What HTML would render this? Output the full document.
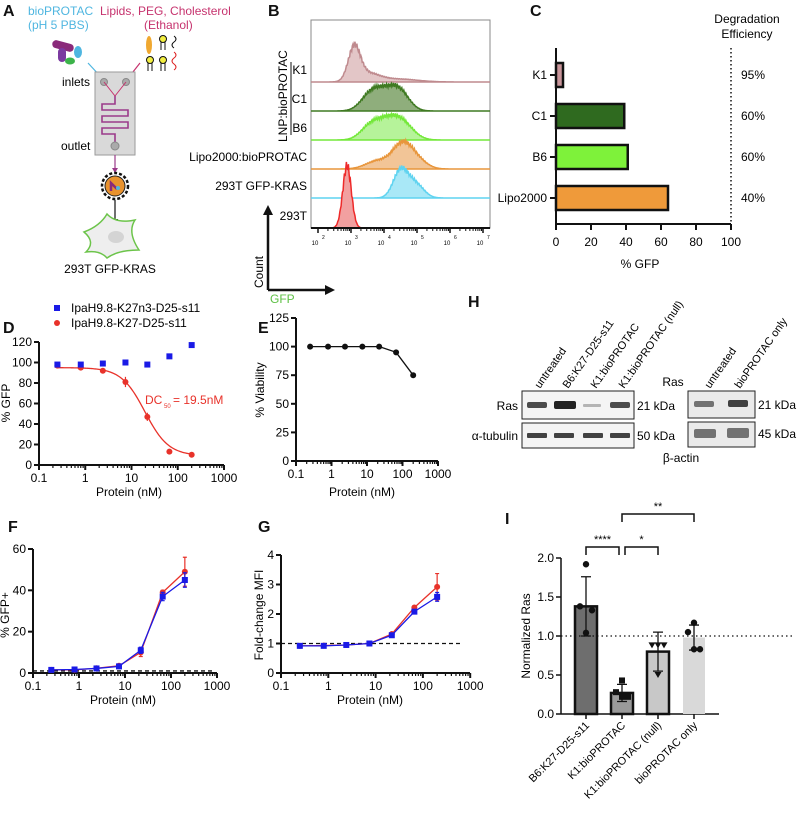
<!DOCTYPE html>
<html><head><meta charset="utf-8"><style>
html,body{margin:0;padding:0;background:#fff;}
svg{display:block;font-family:"Liberation Sans",sans-serif;}
</style></head><body>
<svg id="fig" width="800" height="830" viewBox="0 0 800 830">
<g font-weight="bold" font-size="16" fill="#111">
<text x="3" y="16">A</text>
<text x="268" y="16">B</text>
<text x="530" y="16">C</text>
<text x="3" y="333">D</text>
<text x="258" y="333">E</text>
<text x="8" y="532">F</text>
<text x="258" y="532">G</text>
<text x="468" y="307">H</text>
<text x="505" y="524">I</text>
</g>

<g font-size="12">
<text x="28" y="15" fill="#4fb6e0">bioPROTAC</text>
<text x="28" y="29" fill="#4fb6e0">(pH 5 PBS)</text>
<text x="100" y="15" fill="#c6336e">Lipids, PEG, Cholesterol</text>
<text x="144" y="29" fill="#c6336e">(Ethanol)</text>
<g>
<rect x="52" y="42" width="22" height="8" rx="4" fill="#8a2a7a" transform="rotate(15 63 46)"/>
<rect x="58" y="48" width="8" height="14" rx="4" fill="#7b3aa0"/>
<ellipse cx="78" cy="52" rx="4" ry="6" fill="#4fb6e0"/>
<ellipse cx="70" cy="61" rx="5" ry="3.5" fill="#3cb34a"/>
</g>
<g>
<ellipse cx="149" cy="45" rx="3" ry="9" fill="#f0a830"/>
<circle cx="150" cy="60" r="3.5" fill="#f2ee40" stroke="#111"/>
<path d="M148 63v8M152 63v8" stroke="#111"/>
<circle cx="163" cy="60" r="3.5" fill="#f2ee40" stroke="#111"/>
<path d="M161 63v8M165 63v8" stroke="#111"/>
<circle cx="163" cy="39" r="3.5" fill="#f2ee40" stroke="#111"/>
<path d="M161 42v8M165 42v8" stroke="#111"/>
<path d="M174 36q4 3 0 6q-4 3 0 6" fill="none" stroke="#111"/>
<path d="M174 52q4 3 0 6q-4 3 0 6q4 3 0 6" fill="none" stroke="#d22"/>
</g>
<path d="M88 63L101 77" stroke="#4fb6e0" stroke-width="1.2"/>
<path d="M97 75l4 3-1-5z" fill="#4fb6e0"/>
<path d="M140 63L129 77" stroke="#c6336e" stroke-width="1.2"/>
<path d="M126 78l5-2-3-3z" fill="#c6336e"/>
<rect x="95" y="72" width="40" height="83" fill="#d9d9d9" stroke="#9a9a9a"/>
<circle cx="104" cy="82" r="3.5" fill="#aaa" stroke="#888"/>
<circle cx="126" cy="82" r="3.5" fill="#aaa" stroke="#888"/>
<path d="M104 82L115 96L126 82" fill="none" stroke="#c6336e" stroke-width="1"/>
<path d="M115 96V104H102V110H128V116H102V122H128V128H102V134H115V146" fill="none" stroke="#9b3a8a" stroke-width="1.6"/>
<circle cx="115" cy="146" r="4" fill="#aaa" stroke="#888"/>
<text x="62" y="86">inlets</text>
<text x="61" y="150">outlet</text>
<path d="M115 155V170" stroke="#9b3a8a" stroke-width="1.2"/>
<path d="M112 168l3 5 3-5z" fill="#9b3a8a"/>
<g>
<circle cx="115" cy="186" r="13" fill="none" stroke="#111" stroke-width="2.5" stroke-dasharray="3 2"/>
<circle cx="115" cy="186" r="10" fill="#e8922e" stroke="#222"/>
<path d="M111 191v-8l6 6" fill="none" stroke="#8a2a7a" stroke-width="2.5"/>
<circle cx="118" cy="188" r="2" fill="#4fb6e0"/>
</g>
<path d="M115 200V222" stroke="#111" stroke-width="1.2"/>
<path d="M112 219l3 5 3-5z" fill="#111"/>
<path d="M84 232Q100 226 107 214Q116 224 135 220Q127 232 139 250Q118 250 107 258Q100 250 86 252Q96 242 84 232Z" fill="#eee" stroke="#6cc44a" stroke-width="1.5"/>
<ellipse cx="116" cy="237" rx="8" ry="6" fill="#d4d4d4"/>
<text x="110" y="273" text-anchor="middle">293T GFP-KRAS</text>
</g>

<g font-size="12">
<rect x="311" y="20" width="179" height="208" fill="none" stroke="#888"/>
<text transform="translate(287,142) rotate(-90)">LNP:bioPROTAC</text>
<path d="M291 62V135" stroke="#111" stroke-width="1"/>
<path d="M268 290V212M268 290H328" stroke="#111" stroke-width="2.5" fill="none"/>
<path d="M263 215l5-10 5 10z M325 285l10 5-10 5z" fill="#111"/>
<text transform="translate(263,288) rotate(-90)">Count</text>
<text x="270" y="303" fill="#5dc044">GFP</text>
</g>
<g id="histB"></g>

<g id="panelC"></g>
<g id="panelD"></g>
<g id="panelE"></g>
<g id="panelF"></g>
<g id="panelG"></g>

<g font-size="12">
<g font-size="11">
<text transform="translate(540,389) rotate(-55)">untreated</text>
<text transform="translate(568,389) rotate(-55)">B6:K27-D25-s11</text>
<text transform="translate(596,389) rotate(-55)">K1:bioPROTAC</text>
<text transform="translate(624,389) rotate(-55)">K1:bioPROTAC (null)</text>
<text transform="translate(710,389) rotate(-55)">untreated</text>
<text transform="translate(740,389) rotate(-55)">bioPROTAC only</text>
</g>
<rect x="522" y="391" width="112" height="28" fill="#f4f4f4" stroke="#222"/>
<rect x="522" y="423" width="112" height="25" fill="#f4f4f4" stroke="#222"/>
<rect x="688" y="391" width="67" height="27" fill="#eaeaea" stroke="#222"/>
<rect x="688" y="422" width="67" height="25" fill="#eaeaea" stroke="#222"/>
<g fill="#222">
<rect x="527" y="402" width="20" height="6" rx="2" opacity="0.8"/>
<rect x="554" y="401" width="22" height="8" rx="2"/>
<rect x="583" y="404" width="18" height="3" rx="1" opacity="0.3"/>
<rect x="610" y="402" width="20" height="6" rx="2" opacity="0.8"/>
<rect x="527" y="433" width="20" height="5" rx="1" opacity="0.85"/>
<rect x="554" y="433" width="20" height="5" rx="1" opacity="0.85"/>
<rect x="583" y="433" width="20" height="5" rx="1" opacity="0.85"/>
<rect x="610" y="433" width="20" height="5" rx="1" opacity="0.85"/>
<rect x="694" y="401" width="20" height="6" rx="2" opacity="0.6"/>
<rect x="728" y="400" width="20" height="7" rx="2" opacity="0.85"/>
<rect x="694" y="429" width="22" height="9" rx="2" opacity="0.6"/>
<rect x="727" y="428" width="22" height="10" rx="2" opacity="0.6"/>
</g>
<text x="518" y="410" text-anchor="end">Ras</text>
<text x="518" y="440" text-anchor="end">α-tubulin</text>
<text x="637" y="410">21 kDa</text>
<text x="637" y="440">50 kDa</text>
<text x="758" y="409">21 kDa</text>
<text x="758" y="438">45 kDa</text>
<text x="673" y="386" text-anchor="middle">Ras</text>
<text x="681" y="462" text-anchor="middle">β-actin</text>
</g>
<g id="panelI"></g>
</svg>
<script>
const NS='http://www.w3.org/2000/svg';
function mk(parent,tag,attrs,txt){const e=document.createElementNS(NS,tag);for(const k in attrs)e.setAttribute(k,attrs[k]);if(txt!==undefined)e.textContent=txt;parent.appendChild(e);return e;}
const L=Math.log10;

/* ---------- Panel B data ---------- */
const histLabels=['K1','C1','B6','Lipo2000:bioPROTAC','293T GFP-KRAS','293T'];
const histPeaks=[[[3.1,0.18,33],[3.5,0.35,8],[4.4,0.6,3]],[[3.6,0.3,16],[4.45,0.3,20],[4.0,0.3,12]],[[3.6,0.3,14],[4.5,0.35,19],[4.05,0.3,11]],[[4.55,0.3,24],[3.8,0.35,8],[5.0,0.3,8]],[[4.5,0.22,27],[4.95,0.25,14]],[[2.88,0.13,62]]];
const histLine=['#bf8a8e','#3f7a22','#74e83a','#e8963c','#5fd3f0','#ee2a2a'];
const histFill=['#e3c6c7','#8fae7c','#b6f39a','#f2c597','#a9e8f7','#f2a0a0'];
const histBase=[82,111,140,169,198,228];
const decadeTicks=[2,3,4,5,6,7];
(function(){
const g=document.getElementById('histB');
const xH=d=>318+(d-2)*33;
histLabels.forEach((lab,i)=>{
 let pts=[];
 for(let d=1.8;d<=7.05;d+=0.02){let h=0;histPeaks[i].forEach(p=>{h+=p[2]*Math.exp(-0.5*Math.pow((d-p[0])/p[1],2));});
  h*=1+0.08*Math.sin(d*97.3)*(h>2?1:0);
  const x=Math.max(311,Math.min(490,xH(d)));pts.push(x.toFixed(1)+','+(histBase[i]-h).toFixed(1));}
 const a=mk(g,'path',{d:'M311,'+histBase[i]+' L'+pts.join(' L')+' L490,'+histBase[i]+'Z',fill:histFill[i],stroke:histLine[i],'stroke-width':1.5});
 
 
 const t=mk(g,'text',{x:307,y:histBase[i]-8,'text-anchor':'end','font-size':12},lab);
 
 
});
mk(g,'line',{x1:311,y1:228,x2:490,y2:228,stroke:'#111','stroke-width':2});
decadeTicks.forEach(d=>{
 const tk=mk(g,'line',{x1:xH(d),y1:228,x2:xH(d),y2:233,stroke:'#111','stroke-width':1.5});
 
 
 for(let m=2;m<10&&d<7;m++){mk(g,'line',{x1:xH(d+L(m)),y1:228,x2:xH(d+L(m)),y2:231,stroke:'#111','stroke-width':1});}
 const t=mk(g,'text',{x:xH(d)-3,y:245,'font-size':6,'text-anchor':'middle'},'10');
 
 
 mk(g,'text',{x:xH(d)+4,y:239,'font-size':5},String(d));
});
})();

/* ---------- Panel C data ---------- */
const cCats=['K1','C1','B6','Lipo2000'];
const cVals=[4,39,41,64];
const cEff=['95%','60%','60%','40%'];
const cColors=['#c9959a','#2f6a1f','#7ef23a','#ef9a3a'];
const cTicks=[0,20,40,60,80,100];
(function(){
const g=document.getElementById('panelC');
const xC=v=>556+v*1.75;const yC=i=>75+i*41;
cCats.forEach((c,i)=>{
 const b=mk(g,'rect',{x:xC(0),y:yC(i)-12,width:xC(cVals[i])-xC(0),height:24,fill:cColors[i],stroke:'#111','stroke-width':2.5});
 
 
 mk(g,'line',{x1:550,y1:yC(i),x2:556,y2:yC(i),stroke:'#111','stroke-width':2});
 const t=mk(g,'text',{x:547,y:yC(i)+4,'text-anchor':'end','font-size':12},c);
 
 
 const e=mk(g,'text',{x:741,y:yC(i)+4,'font-size':12},cEff[i]);
 
 
});
mk(g,'path',{d:'M556,48V224H731',fill:'none',stroke:'#111','stroke-width':2});
mk(g,'line',{x1:731,y1:48,x2:731,y2:224,stroke:'#111','stroke-width':1.5,'stroke-dasharray':'1.5 2.5'});
cTicks.forEach(v=>{mk(g,'line',{x1:xC(v),y1:224,x2:xC(v),y2:230,stroke:'#111','stroke-width':2});
 const t=mk(g,'text',{x:xC(v),y:246,'text-anchor':'middle','font-size':12},String(v));
 
 });
const xt=mk(g,'text',{x:640,y:268,'text-anchor':'middle','font-size':12},'% GFP');


const h1=mk(g,'text',{x:747,y:23,'text-anchor':'middle','font-size':12},'Degradation');


mk(g,'text',{x:747,y:38,'text-anchor':'middle','font-size':12},'Efficiency');
})();

const xTickVals=[0.1,1,10,100,1000];
function logAxes(g,xf,yf,x0,x1,yAx,yTicks,yMin,yMax,fs){
 mk(g,'line',{x1:x0,y1:yf(yMin),x2:x1,y2:yf(yMin),stroke:'#111','stroke-width':2});
 mk(g,'line',{x1:x0,y1:yf(yMin),x2:x0,y2:yf(yMax),stroke:'#111','stroke-width':2});
 xTickVals.forEach(v=>{
  mk(g,'line',{x1:xf(v),y1:yf(yMin),x2:xf(v),y2:yf(yMin)+5,stroke:'#111','stroke-width':2});
  if(v<1000)for(let m=2;m<10;m++)mk(g,'line',{x1:xf(v*m),y1:yf(yMin),x2:xf(v*m),y2:yf(yMin)+3,stroke:'#111','stroke-width':1.2});
  const t=mk(g,'text',{x:xf(v),y:yf(yMin)+17,'text-anchor':'middle','font-size':fs},String(v));
  
  
 });
 yTicks.forEach(v=>{
  mk(g,'line',{x1:x0-5,y1:yf(v),x2:x0,y2:yf(v),stroke:'#111','stroke-width':2});
  const t=mk(g,'text',{x:x0-7,y:yf(v)+4,'text-anchor':'end','font-size':fs},String(v));
  
  
 });
}
function poly(g,pts,color){return mk(g,'polyline',{points:pts.map(p=>p.join(',')).join(' '),fill:'none',stroke:color,'stroke-width':1.3});}

/* ---------- Panel D data ---------- */
const conc=[0.25,0.8,2.4,7.4,22,66,200];
const dBlue=[98,98,99,100,98,106,117];
const dRed=[97,95,92,81,47,13,10];
const dRedErr=[1,1,1,5,4,1,1];
const dFitTop=95, dFitBottom=9, dFitDC50=19.5, dFitHill=1.7;
const dYTicks=[0,20,40,60,80,100,120];
(function(){
const g=document.getElementById('panelD');
const xf=v=>39+(L(v)+1)*46.25, yf=v=>465-v*123/120;
logAxes(g,xf,yf,39,224,0,dYTicks,0,120,12);
let pts=[];for(let lv=L(0.25);lv<=L(200)+0.001;lv+=0.02){const c=Math.pow(10,lv);pts.push([xf(c),yf(dFitBottom+(dFitTop-dFitBottom)/(1+Math.pow(c/dFitDC50,dFitHill)))]);}
const fit=poly(g,pts,'#e8322a');


conc.forEach((c,i)=>{
 mk(g,'line',{x1:xf(c),y1:yf(dRed[i]-dRedErr[i]),x2:xf(c),y2:yf(dRed[i]+dRedErr[i]),stroke:'#e8322a','stroke-width':1.2});
 const p=mk(g,'circle',{cx:xf(c),cy:yf(dRed[i]),r:3,fill:'#e8322a'});
 
 
 const s=mk(g,'rect',{x:xf(c)-3,y:yf(dBlue[i])-3,width:6,height:6,fill:'#1a1ae6'});
 
 
});
const dc=mk(g,'text',{x:145,y:404,fill:'#e8322a','font-size':12},'DC');


mk(g,'text',{x:164,y:408,fill:'#e8322a','font-size':6},'50');
mk(g,'text',{x:173,y:404,fill:'#e8322a','font-size':12},'= 19.5nM');
const lb=mk(g,'rect',{x:54,y:305,width:6,height:6,fill:'#1a1ae6'});


const l1=mk(g,'text',{x:71,y:312,'font-size':12},'IpaH9.8-K27n3-D25-s11');


mk(g,'circle',{cx:57,cy:323,r:3,fill:'#e8322a'});
const l2=mk(g,'text',{x:71,y:327,'font-size':12},'IpaH9.8-K27-D25-s11');


const xt=mk(g,'text',{x:129,y:496,'text-anchor':'middle','font-size':12},'Protein (nM)');


const yt=mk(g,'text',{transform:'translate(10,403) rotate(-90)','text-anchor':'middle','font-size':12},'% GFP');


})();

/* ---------- Panel E data ---------- */
const eVals=[100,100,100,100,100,95,75];
const eYTicks=[0,25,50,75,100,125];
(function(){
const g=document.getElementById('panelE');
const xf=v=>296+(L(v)+1)*35.5, yf=v=>461-v*143/125;
logAxes(g,xf,yf,296,438,0,eYTicks,0,125,12);
const ln=poly(g,conc.map((c,i)=>[xf(c),yf(eVals[i])]),'#111');


conc.forEach((c,i)=>{const p=mk(g,'circle',{cx:xf(c),cy:yf(eVals[i]),r:3,fill:'#111'});
 
 });
const xt=mk(g,'text',{x:362,y:496,'text-anchor':'middle','font-size':12},'Protein (nM)');


const yt=mk(g,'text',{transform:'translate(264,390) rotate(-90)','text-anchor':'middle','font-size':12},'% Viability');


})();

/* ---------- Panel F / G data ---------- */
const fRed=[1.5,1.5,2.3,3.5,10,39,49];
const fRedErr=[0.3,0.3,0.4,0.5,2,1,7];
const fBlue=[1.5,1.7,2.2,3.2,11,37,45];
const fBlueErr=[0.3,0.3,0.4,0.5,1.5,2,3.5];
const fYTicks=[0,20,40,60];
const gRed=[0.92,0.93,0.95,1.0,1.32,2.22,2.92];
const gRedErr=[0.02,0.02,0.02,0.02,0.05,0.05,0.45];
const gBlue=[0.92,0.92,0.95,1.0,1.28,2.08,2.58];
const gBlueErr=[0.02,0.02,0.02,0.02,0.05,0.07,0.15];
const gYTicks=[0,1,2,3,4];
function drawGrowth(id,xf,yf,x0,x1,yTicks,yMax,red,redErr,blue,blueErr,dashEnd,xTitleX,yTitle,yTitleX){
 const g=document.getElementById(id);
 logAxes(g,xf,yf,x0,x1,0,yTicks,0,yMax,12);
 const dl=mk(g,'line',{x1:x0,y1:yf(1),x2:dashEnd,y2:yf(1),stroke:'#111','stroke-width':1.3,'stroke-dasharray':'4 3'});
 
 
 [[red,redErr,'#e8322a'],[blue,blueErr,'#1a1ae6']].forEach(([v,e,col],k)=>{
  const ln=poly(g,conc.map((c,i)=>[xf(c),yf(v[i])]),col);
  
  
  conc.forEach((c,i)=>{
   mk(g,'path',{d:`M${xf(c)},${yf(v[i]-e[i])}V${yf(v[i]+e[i])}M${xf(c)-2},${yf(v[i]+e[i])}h4M${xf(c)-2},${yf(v[i]-e[i])}h4`,stroke:col,'stroke-width':1.2,fill:'none'});
   const p=k?mk(g,'rect',{x:xf(c)-3,y:yf(v[i])-3,width:6,height:6,fill:col}):mk(g,'circle',{cx:xf(c),cy:yf(v[i]),r:3,fill:col});
   
   
  });
 });
 const xt=mk(g,'text',{x:xTitleX,y:704,'text-anchor':'middle','font-size':12},'Protein (nM)');
 
 
 const yt=mk(g,'text',{transform:`translate(${yTitleX},615) rotate(-90)`,'text-anchor':'middle','font-size':12},yTitle);
 
 
}
drawGrowth('panelF',v=>33+(L(v)+1)*46,v=>673-v*124/60,33,217,fYTicks,60,fRed,fRedErr,fBlue,fBlueErr,215,123,'% GFP+',9);
drawGrowth('panelG',v=>281+(L(v)+1)*47.3,v=>673-v*118/4,281,470,gYTicks,4,gRed,gRedErr,gBlue,gBlueErr,460,370,'Fold-change MFI',263);

/* ---------- Panel I data ---------- */
const iCats=['B6:K27-D25-s11','K1:bioPROTAC','K1:bioPROTAC (null)','bioPROTAC only'];
const iMeans=[1.38,0.27,0.8,0.98];
const iSD=[0.38,0.11,0.25,0.16];
const iPoints=[[1.92,1.38,1.33,1.04],[0.43,0.28,0.22,0.22],[0.88,0.88,0.88,0.5],[1.17,1.05,0.83,0.83]];
const iYTicks=['0.0','0.5','1.0','1.5','2.0'];
const iFill=['#6e6e6e','#9a9a9a','#c8c8c8','#d9d9d9'];
(function(){
const g=document.getElementById('panelI');
const yf=v=>714-v*78, xf=i=>586+i*36;
mk(g,'line',{x1:561,y1:yf(0),x2:719,y2:yf(0),stroke:'#111','stroke-width':1.5});
mk(g,'line',{x1:561,y1:yf(0),x2:561,y2:yf(2),stroke:'#111','stroke-width':1.5});
iYTicks.forEach(s=>{const v=parseFloat(s);mk(g,'line',{x1:556,y1:yf(v),x2:561,y2:yf(v),stroke:'#111','stroke-width':1.5});
 const t=mk(g,'text',{x:554,y:yf(v)+4,'text-anchor':'end','font-size':12},s);
 
 });
iCats.forEach((c,i)=>{
 const b=mk(g,'rect',{x:xf(i)-11,y:yf(iMeans[i]),width:22,height:yf(0)-yf(iMeans[i]),fill:iFill[i],stroke:i<3?'#111':'none','stroke-width':2.5});
 
 
 mk(g,'path',{d:`M${xf(i)},${yf(iMeans[i]-iSD[i])}V${yf(iMeans[i]+iSD[i])}M${xf(i)-5},${yf(iMeans[i]+iSD[i])}h10M${xf(i)-5},${yf(iMeans[i]-iSD[i])}h10`,stroke:'#111','stroke-width':1.3,fill:'none'});
 iPoints[i].forEach((v,j)=>{
  const x=xf(i)+[0,-6,6,0][j], y=yf(v);
  let p;
  if(i===1)p=mk(g,'rect',{x:x-3,y:y-3,width:6,height:6,fill:'#111'});
  else if(i===2)p=mk(g,'path',{d:`M${x-3.5},${y-3}h7l-3.5,6z`,fill:'#111'});
  else p=mk(g,'circle',{cx:x,cy:y,r:3.2,fill:'#111'});
  
  
 });
 mk(g,'line',{x1:xf(i),y1:yf(0),x2:xf(i),y2:yf(0)+5,stroke:'#111','stroke-width':1.5});
 const t=mk(g,'text',{transform:`translate(${xf(i)+4},${yf(0)+12}) rotate(-45)`,'text-anchor':'end','font-size':11},c);
 
 
});
const dl=mk(g,'line',{x1:561,y1:yf(1),x2:793,y2:yf(1),stroke:'#111','stroke-width':1.3,'stroke-dasharray':'1.5 3'});


[[0,1,547,'****'],[1,2,547,'*'],[1,3,514,'**']].forEach(([a,b,y,s])=>{
 const x1=xf(a)+(a===1&&b===2?3:0), x2=xf(b)-(a===0?3:0);
 mk(g,'path',{d:`M${x1},${y+8}V${y}H${x2}V${y+8}`,fill:'none',stroke:'#111','stroke-width':1.5});
 const t=mk(g,'text',{x:(x1+x2)/2,y:y-4,'text-anchor':'middle','font-size':11},s);
 
 
});
const yt=mk(g,'text',{transform:'translate(530,636) rotate(-90)','text-anchor':'middle','font-size':12},'Normalized Ras');


})();
</script>
</body></html>
